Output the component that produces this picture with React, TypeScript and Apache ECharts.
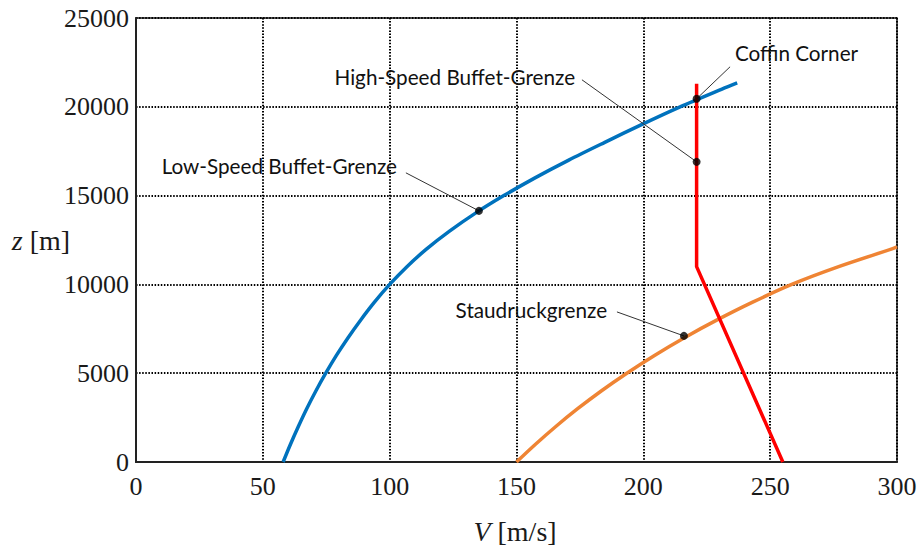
import React, { useEffect, useRef } from "react";
import * as echarts from "echarts";

// Low-speed buffet limit (blue)
const lowSpeedZ = [0, 1000, 2000, 3000, 4000, 5000, 6000, 7000, 8000, 9000, 10000, 11000, 12000, 13000, 14000, 15000, 16000, 17000, 18000, 19000, 20000, 21000, 21350];
const lowSpeedV = [58, 60.9, 64.0, 67.3, 70.9, 74.8, 79.0, 83.6, 88.6, 94.0, 100.0, 106.8, 114.6, 123.6, 133.7, 145.0, 157.3, 170.6, 184.8, 199.3, 214.5, 231.0, 237.0];

// Dynamic pressure limit (orange)
const staudruckZ = [0, 1000, 2000, 3000, 4000, 5000, 6000, 7000, 8000, 9000, 10000, 11000, 12000, 12110];
const staudruckV = [150, 157.5, 165.5, 174.1, 183.4, 193.5, 204.4, 216.2, 229.1, 243.1, 258.5, 277.0, 298.0, 300];

// High-speed buffet limit (red)
const highSpeedZ = [0, 11000, 21300];
const highSpeedV = [255, 221, 221];

// Annotated points
const pointNames = ["Coffin Corner", "High-Speed Buffet-Grenze", "Low-Speed Buffet-Grenze", "Staudruckgrenze"];
const pointV = [221, 221, 135.2, 216];
const pointZ = [20450, 16900, 14140, 7100];
// label anchor (data coords) and leader line start (data coords)
const labelV = [236.1, 173.1, 102.9, 185.7];
const labelZ = [23040, 21690, 16676, 8563];
const labelAlign = ["left", "right", "right", "right"];
const leaderV = [234.2, 175.8, 106.4, 189.6];
const leaderZ = [22254, 21521, 16282, 8451];

const xTicks = [0, 300, 50];
const yTicks = [0, 25000, 5000];

const pairs = (v: number[], z: number[]) => v.map((x, i) => [x, z[i]]);

export default function App() {
  const ref = useRef<HTMLDivElement>(null);
  useEffect(() => {
    document.body.style.margin = "0";
    const chart = echarts.init(ref.current!, null, { renderer: "svg" });
    const tickFont = { fontFamily: "Liberation Serif", fontSize: 26, color: "#1a1a1a" };
    const gridLine = { show: true, lineStyle: { color: "#000", width: 2, type: [1.5, 1.6] as any } };
    chart.setOption({
      animation: false,
      backgroundColor: "#fff",
      grid: { left: 136, top: 18, right: 24, bottom: 90, show: true, borderColor: "#222", borderWidth: 1.5, backgroundColor: "transparent" },
      xAxis: {
        type: "value", min: xTicks[0], max: xTicks[1], interval: xTicks[2],
        axisLine: { show: true, lineStyle: { color: "#222", width: 2 } },
        axisTick: { show: false },
        axisLabel: { ...tickFont, margin: 11, formatter: (v: number) => String(v) },
        splitLine: gridLine,
      },
      yAxis: {
        type: "value", min: yTicks[0], max: yTicks[1], interval: yTicks[2],
        axisLine: { show: true, lineStyle: { color: "#222", width: 2 } },
        axisTick: { show: false },
        axisLabel: { ...tickFont, margin: 7, formatter: (v: number) => String(v) },
        splitLine: gridLine,
      },
      series: [
        { type: "line", data: pairs(lowSpeedV, lowSpeedZ), showSymbol: false, smooth: 0.3, lineStyle: { color: "#0072bd", width: 3.5 }, z: 3 },
        { type: "line", data: pairs(staudruckV, staudruckZ), showSymbol: false, smooth: 0.3, lineStyle: { color: "#ef8434", width: 3.5 }, z: 3 },
        { type: "line", data: pairs(highSpeedV, highSpeedZ), showSymbol: false, smooth: false, lineStyle: { color: "#ff0000", width: 3.5 }, z: 3 },
        { type: "scatter", data: pairs(pointV, pointZ), symbolSize: 8, itemStyle: { color: "#000" }, z: 6 },
      ],
    });
    const graphics: any[] = [];
    pointNames.forEach((name, i) => {
      const p = chart.convertToPixel({ gridIndex: 0 }, [pointV[i], pointZ[i]]) as number[];
      const s = chart.convertToPixel({ gridIndex: 0 }, [leaderV[i], leaderZ[i]]) as number[];
      const t = chart.convertToPixel({ gridIndex: 0 }, [labelV[i], labelZ[i]]) as number[];
      graphics.push({ type: "line", shape: { x1: s[0], y1: s[1], x2: p[0], y2: p[1] }, style: { stroke: "#333", lineWidth: 1 }, z: 5 });
      graphics.push({ type: "text", x: t[0], y: t[1], style: { text: name, fontFamily: "Lato", fontSize: 20.7, fill: "#111", align: labelAlign[i], verticalAlign: "middle" }, z: 7 });
    });
    graphics.push({
      type: "text", x: 41, y: 240,
      style: { text: "{i|z} [m]", align: "center", verticalAlign: "middle", rich: { i: { fontFamily: "Liberation Serif", fontStyle: "italic", fontSize: 28, fill: "#1a1a1a" } }, fontFamily: "Liberation Serif", fontSize: 28, fill: "#1a1a1a" },
    });
    graphics.push({
      type: "text", x: 515, y: 531,
      style: { text: "{i|V} [m/s]", align: "center", verticalAlign: "middle", rich: { i: { fontFamily: "Liberation Serif", fontStyle: "italic", fontSize: 28, fill: "#1a1a1a" } }, fontFamily: "Liberation Serif", fontSize: 28, fill: "#1a1a1a" },
    });
    chart.setOption({ graphic: graphics });
    return () => chart.dispose();
  }, []);
  return <div ref={ref} style={{ width: 921, height: 552 }} />;
}
